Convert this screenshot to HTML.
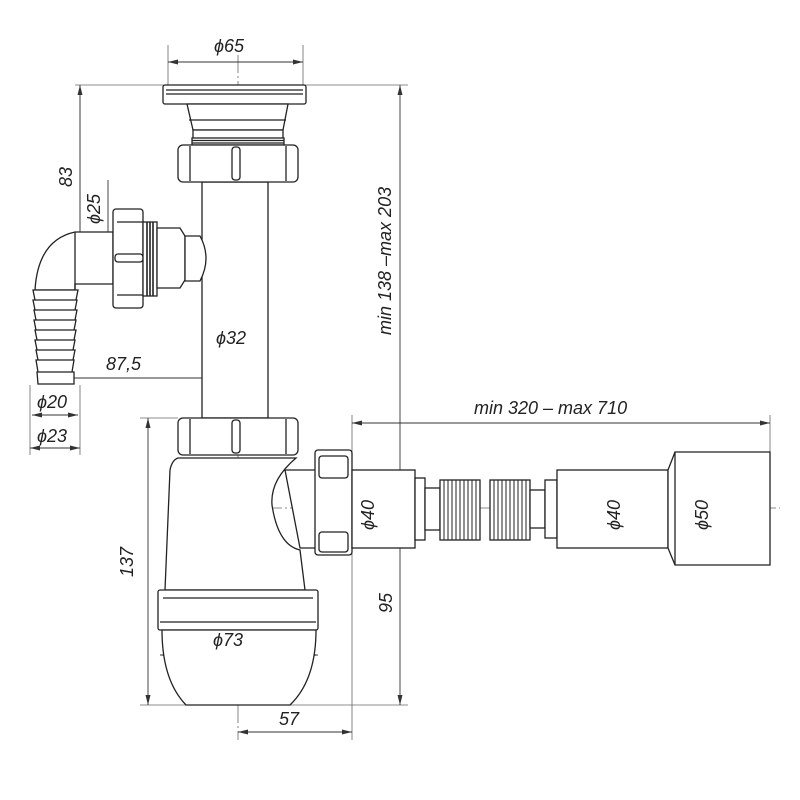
<!DOCTYPE html>
<html><head><meta charset="utf-8"><style>
html,body{margin:0;padding:0;background:#fff}
svg{display:block}
text{font-family:"Liberation Sans",sans-serif;font-style:italic;font-size:18px;fill:#222}
</style></head><body>
<svg width="800" height="800" viewBox="0 0 800 800" xmlns="http://www.w3.org/2000/svg">
<defs>
<marker id="a" viewBox="0 0 10 6" refX="10" refY="3" markerWidth="10" markerHeight="6" orient="auto-start-reverse" markerUnits="userSpaceOnUse"><path d="M0,0.5 L10,3 L0,5.5Z" fill="#333"/></marker>
</defs>
<g fill="none" stroke="#666" stroke-width="0.8">
<line x1="238" y1="55" x2="238" y2="740" stroke-dasharray="18,3,2,3"/>
<line x1="238" y1="508" x2="780" y2="508" stroke-dasharray="18,3,2,3"/>
<line x1="60" y1="258" x2="238" y2="258" stroke-dasharray="18,3,2,3"/>
<path d="M55,380 V275 Q55,258 72,258" stroke-dasharray="10,3,2,3"/>
<line x1="168" y1="45" x2="168" y2="85"/><line x1="303" y1="45" x2="303" y2="85"/>
<line x1="75" y1="85" x2="408" y2="85"/>
<line x1="140" y1="418" x2="178" y2="418"/>
<line x1="140" y1="705" x2="408" y2="705"/>
<line x1="352" y1="415" x2="352" y2="740"/>
<line x1="770" y1="415" x2="770" y2="452"/>
<line x1="85" y1="232" x2="113" y2="232"/><line x1="85" y1="284" x2="113" y2="284"/>
<line x1="30" y1="385" x2="30" y2="455"/><line x1="80" y1="385" x2="80" y2="455"/>
<line x1="78" y1="378" x2="238" y2="378"/>
<line x1="80" y1="85" x2="80" y2="258"/>
</g>
<g fill="none" stroke="#333" stroke-width="0.9">
<line x1="168" y1="62" x2="303" y2="62" marker-start="url(#a)" marker-end="url(#a)"/>
<line x1="400" y1="85" x2="400" y2="705" marker-start="url(#a)" marker-end="url(#a)"/>
<line x1="400" y1="508" x2="400" y2="520" marker-start="url(#a)"/>
<line x1="148" y1="418" x2="148" y2="705" marker-start="url(#a)" marker-end="url(#a)"/>
<line x1="238" y1="732" x2="352" y2="732" marker-start="url(#a)" marker-end="url(#a)"/>
<line x1="352" y1="423" x2="770" y2="423" marker-start="url(#a)" marker-end="url(#a)"/>
<line x1="80" y1="85" x2="80" y2="258" marker-start="url(#a)" marker-end="url(#a)"/>
<line x1="108" y1="232" x2="108" y2="284" marker-start="url(#a)" marker-end="url(#a)"/>
<line x1="108" y1="180" x2="108" y2="232"/>
<line x1="62" y1="378" x2="238" y2="378" marker-end="url(#a)"/>
<line x1="202" y1="353" x2="268" y2="353" marker-start="url(#a)" marker-end="url(#a)"/>
<line x1="32" y1="415" x2="78" y2="415" marker-start="url(#a)" marker-end="url(#a)"/>
<line x1="30" y1="448" x2="80" y2="448" marker-start="url(#a)" marker-end="url(#a)"/>
<line x1="160" y1="655" x2="318" y2="655" marker-start="url(#a)" marker-end="url(#a)"/>
<line x1="385" y1="478" x2="385" y2="538" marker-start="url(#a)" marker-end="url(#a)"/>
<line x1="630" y1="478" x2="630" y2="538" marker-start="url(#a)" marker-end="url(#a)"/>
<line x1="718" y1="452" x2="718" y2="565" marker-start="url(#a)" marker-end="url(#a)"/>
</g>
<g fill="#fff" stroke="#222" stroke-width="1.3">
<rect x="163" y="85" width="143" height="19" rx="2"/>
<line x1="166" y1="90" x2="303" y2="90"/><line x1="166" y1="94" x2="303" y2="94"/>
<path d="M187,104 L193,130 H283 L288,104Z"/>
<line x1="189" y1="120" x2="286" y2="120"/>
<rect x="193" y="130" width="90" height="15"/>
<rect x="192" y="138" width="92" height="7"/>
<line x1="192" y1="140.5" x2="284" y2="140.5"/><line x1="192" y1="143" x2="284" y2="143"/>
<rect x="202" y="182" width="66" height="236"/>
<rect x="178" y="145" width="120" height="37" rx="5"/>
<line x1="190" y1="146" x2="190" y2="181"/><line x1="286" y1="146" x2="286" y2="181"/>
<rect x="232" y="147" width="8" height="33" rx="3"/>
<rect x="178" y="418" width="120" height="37" rx="5"/>
<line x1="190" y1="419" x2="190" y2="454"/><line x1="286" y1="419" x2="286" y2="454"/>
<rect x="232" y="420" width="8" height="33" rx="3"/>
<path d="M285,470 H318 V548 H300 Z"/>
<path d="M178,458 H296 Q270,480 272,505 Q278,545 300,550 L305,590 H165 L170,470 Q172,460 178,458Z"/>
<rect x="158" y="590" width="160" height="40" rx="2"/>
<line x1="163" y1="598" x2="313" y2="598"/><line x1="160" y1="622" x2="316" y2="622"/>
<path d="M162,630 H316 Q316,680 290,705 H186 Q162,680 162,630Z"/>
<rect x="315" y="450" width="37" height="105" rx="3"/>
<rect x="319" y="456" width="29" height="22" rx="3"/>
<rect x="319" y="532" width="29" height="20" rx="3"/>
<rect x="352" y="470" width="63" height="78"/>
<rect x="415" y="478" width="10" height="62"/>
<rect x="425" y="488" width="15" height="42"/>
<rect x="440" y="480" width="40" height="60"/>
<rect x="490" y="480" width="40" height="60"/>
<rect x="530" y="490" width="15" height="38"/>
<rect x="545" y="480" width="12" height="58"/>
<rect x="557" y="470" width="111" height="78"/>
<path d="M668,470 L675,452 H770 V565 H675 L668,548Z"/>
<line x1="675" y1="452" x2="675" y2="565"/>
</g>
<g stroke="#222" stroke-width="1">
<path d="M444,480V540M448,480V540M452,480V540M456,480V540M460,480V540M464,480V540M468,480V540M472,480V540M476,480V540"/>
<path d="M494,480V540M498,480V540M502,480V540M506,480V540M510,480V540M514,480V540M518,480V540M522,480V540M526,480V540"/>
</g>
<g fill="#fff" stroke="#222" stroke-width="1.3">
<path d="M113,232 H75 Q38,240 35,290 H75 V284 H113Z"/>
<line x1="75" y1="232" x2="75" y2="290"/>
<path d="M33,290 H78 L76,300 H35Z M33,300 H77 L75,310 H35Z M34,310 H77 L75,320 H36Z M34,320 H76 L74,330 H36Z M35,330 H76 L74,340 H37Z M35,340 H75 L73,350 H37Z M36,350 H75 L73,360 H38Z M36,360 H74 L72,372 H38Z M37,372 H74 V384 H38Z"/>
<rect x="113" y="209" width="30" height="99" rx="3"/>
<line x1="117" y1="222" x2="143" y2="222"/><line x1="117" y1="295" x2="143" y2="295"/>
<rect x="115" y="254" width="28" height="8" rx="3"/>
<rect x="143" y="222" width="14" height="74"/>
<path d="M147,222V296M150,222V296M153,222V296" stroke-width="1.6"/>
<path d="M157,228 H180 L185,236 V280 L180,288 H157Z"/>
<path d="M185,236 H200 Q212,258 200,281 H185Z"/>
</g>
<text x="214" y="52">ϕ65</text>
<text x="216" y="344">ϕ32</text>
<text x="106" y="370">87,5</text>
<text x="37" y="408">ϕ20</text>
<text x="37" y="442">ϕ23</text>
<text x="213" y="646">ϕ73</text>
<text x="279" y="725">57</text>
<text x="474" y="414">min 320 – max 710</text>
<text transform="translate(72,187) rotate(-90)">83</text>
<text transform="translate(100,224) rotate(-90)">ϕ25</text>
<text transform="translate(133,577) rotate(-90)">137</text>
<text transform="translate(392,613) rotate(-90)">95</text>
<text transform="translate(391,335) rotate(-90)">min 138 –max 203</text>
<text transform="translate(374,530) rotate(-90)">ϕ40</text>
<text transform="translate(620,530) rotate(-90)">ϕ40</text>
<text transform="translate(708,530) rotate(-90)">ϕ50</text>
</svg>
</body></html>
